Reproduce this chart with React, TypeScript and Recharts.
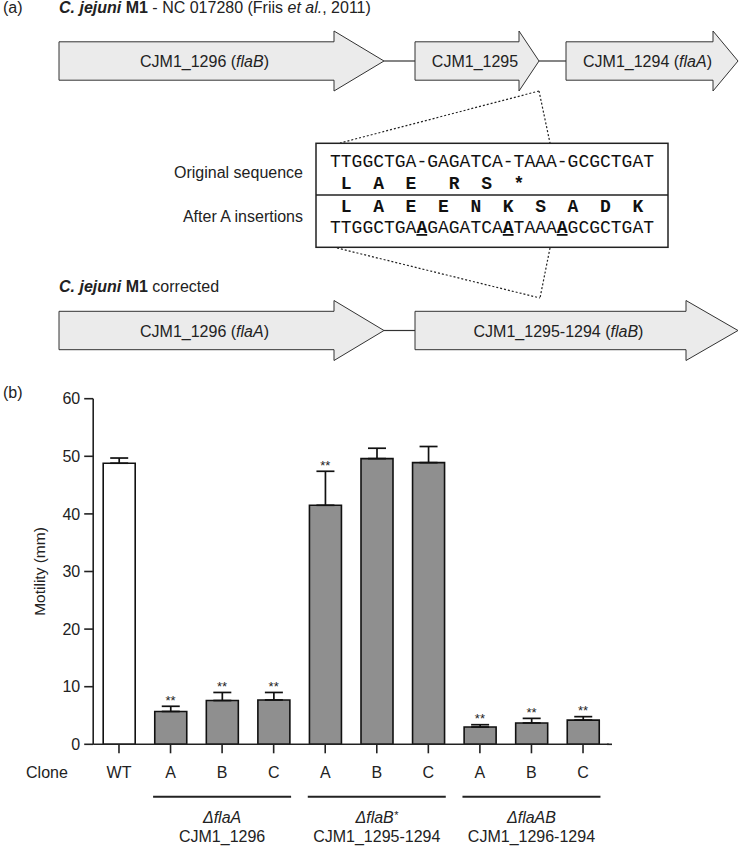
import { ComposedChart, Bar, Line, XAxis, YAxis, ErrorBar, Cell, LabelList } from "recharts";

const FONT = "'Liberation Sans', Arial, Helvetica, sans-serif";
const MONO = "'Liberation Mono', 'Courier New', monospace";

// motility assay
const clones = ["WT", "A", "B", "C", "A", "B", "C", "A", "B", "C"];
const motility = [48.8, 5.7, 7.6, 7.7, 41.5, 49.6, 48.9, 3.0, 3.7, 4.2];
const sd = [0.9, 0.9, 1.4, 1.3, 5.9, 1.8, 2.8, 0.4, 0.8, 0.6];
const stars = ["", "**", "**", "**", "**", "", "", "**", "**", "**"];
const yTicks = [0, 10, 20, 30, 40, 50, 60];

const groupNames = ["flaA", "flaB", "flaAB"];
const groupLoci = ["CJM1_1296", "CJM1_1295-1294", "CJM1_1296-1294"];
const groupMiddle = [2, 5, 8];

// sequence panel
const seqOriginal = "TTGGCTGA-GAGATCA-TAAA-GCGCTGAT";
const seqCorrected = "TTGGCTGAAGAGATCAATAAAAGCGCTGAT";
const insertions = [8, 16, 21];
const aaOriginal = ["L", "A", "E", "R", "S", "*"];
const aaOriginalPos = [1, 4, 7, 11, 14, 17];
const aaCorrected = ["L", "A", "E", "E", "N", "K", "S", "A", "D", "K"];
const aaCorrectedPos = [1, 4, 7, 10, 13, 16, 19, 22, 25, 28];

const data = clones.map((c, i) => ({
  id: c + i,
  clone: c,
  motility: motility[i],
  err: [0, sd[i]],
  top: stars[i] ? motility[i] + sd[i] : null,
  stars: stars[i],
}));

const CHAR_W = 10.8;
const SEQ_X = 330;

const Gene = ({ x0, head, tip, cy, children }: any) => {
  const b = 19.2;
  const h = 30;
  const d = `M${x0},${cy - b} L${head},${cy - b} L${head},${cy - h} L${tip},${cy} L${head},${cy + h} L${head},${cy + b} L${x0},${cy + b} Z`;
  return (
    <g>
      <path d={d} fill="#ebebeb" stroke="#333" strokeWidth={1} />
      <text x={(x0 + head) / 2 + 8} y={cy + 6} textAnchor="middle" fontSize={16} fill="#222">
        {children}
      </text>
    </g>
  );
};

const CloneTick = (props: any) => {
  const { x, y, payload } = props;
  const i = props.index ?? payload.index;
  const g = groupMiddle.indexOf(i);
  return (
    <g fontFamily={FONT} fill="#222">
      {i === 0 && (
        <text x={x - 72} y={y + 23} textAnchor="middle" fontSize={16}>
          Clone
        </text>
      )}
      {i === clones.length - 1 && (
        <line x1={x + 24} x2={x + 29} y1={y - 11} y2={y - 11} stroke="#222" strokeWidth={1.6} />
      )}
      <text x={x} y={y + 23} textAnchor="middle" fontSize={16}>
        {clones[i]}
      </text>
      {g >= 0 && (
        <g>
          <line x1={x - 69} x2={x + 69} y1={y + 41.4} y2={y + 41.4} stroke="#222" strokeWidth={2} />
          <text x={x} y={y + 67.5} textAnchor="middle" fontSize={16} fontStyle="italic">
            {"\u0394" + groupNames[g]}
            {g === 1 && <tspan dy={-4} fontSize={11}>*</tspan>}
          </text>
          <text x={x} y={y + 86.5} textAnchor="middle" fontSize={16}>
            {groupLoci[g]}
          </text>
        </g>
      )}
    </g>
  );
};

const StarLabel = (props: any) => {
  const { x, y, value } = props;
  if (!value || x == null || y == null) return null;
  return (
    <text x={x} y={y - 1.5} textAnchor="middle" fontSize={13} fontFamily={FONT} fill="#222">
      {value}
    </text>
  );
};

export default function App() {
  return (
    <div style={{ position: "absolute", left: 0, top: 0, width: 740, height: 846, background: "#fff", fontFamily: FONT }}>
      <svg width={740} height={846} style={{ position: "absolute", left: 0, top: 0 }} fontFamily={FONT}>
        <text x={3} y={13} fontSize={16} fill="#222">(a)</text>
        <text x={59} y={13} fontSize={16} fill="#222">
          <tspan fontWeight="bold" fontStyle="italic">C. jejuni</tspan>
          <tspan fontWeight="bold"> M1</tspan>
          <tspan> - NC 017280 (Friis </tspan>
          <tspan fontStyle="italic">et al.</tspan>
          <tspan>, 2011)</tspan>
        </text>

        <line x1={384} x2={415} y1={61} y2={61} stroke="#333" strokeWidth={1.2} />
        <line x1={539} x2={566} y1={61} y2={61} stroke="#333" strokeWidth={1.2} />
        <Gene x0={59} head={334} tip={384} cy={61}>
          CJM1_1296 (<tspan fontStyle="italic">flaB</tspan>)
        </Gene>
        <Gene x0={415} head={519} tip={539} cy={61}>
          CJM1_1295
        </Gene>
        <Gene x0={566} head={713} tip={738} cy={61}>
          CJM1_1294 (<tspan fontStyle="italic">flaA</tspan>)
        </Gene>

        <g stroke="#222" strokeWidth={1.2} strokeDasharray="2 2" fill="none">
          <line x1={539} y1={91} x2={340} y2={143} />
          <line x1={539} y1={91} x2={550} y2={143} />
          <line x1={337} y1={248} x2={540} y2={298} />
          <line x1={550} y1={248} x2={540} y2={298} />
        </g>

        <rect x={316} y={143.3} width={352} height={104} fill="#fff" stroke="#222" strokeWidth={1.5} />
        <line x1={316} x2={668} y1={195} y2={195} stroke="#222" strokeWidth={1.5} />
        <text x={303} y={178} textAnchor="end" fontSize={16} fill="#222">Original sequence</text>
        <text x={303} y={222} textAnchor="end" fontSize={16} fill="#222">After A insertions</text>

        <g fontFamily={MONO} fontSize={18} fill="#111" textAnchor="middle">
          {seqOriginal.split("").map((ch, i) => (
            <text key={"o" + i} x={SEQ_X + (i + 0.5) * CHAR_W} y={167}>{ch}</text>
          ))}
          {aaOriginal.map((aa, i) => (
            <text key={"ao" + i} x={SEQ_X + (aaOriginalPos[i] + 0.5) * CHAR_W} y={189} fontWeight="bold">{aa}</text>
          ))}
          {aaCorrected.map((aa, i) => (
            <text key={"ac" + i} x={SEQ_X + (aaCorrectedPos[i] + 0.5) * CHAR_W} y={212} fontWeight="bold">{aa}</text>
          ))}
          {seqCorrected.split("").map((ch, i) => (
            <text
              key={"c" + i}
              x={SEQ_X + (i + 0.5) * CHAR_W}
              y={233}
              fontWeight={insertions.includes(i) ? "bold" : "normal"}
              textDecoration={insertions.includes(i) ? "underline" : "none"}
            >
              {ch}
            </text>
          ))}
        </g>

        <text x={59} y={292} fontSize={16} fill="#222">
          <tspan fontWeight="bold" fontStyle="italic">C. jejuni</tspan>
          <tspan fontWeight="bold"> M1</tspan>
          <tspan> corrected</tspan>
        </text>
        <line x1={384} x2={415} y1={330.5} y2={330.5} stroke="#333" strokeWidth={1.2} />
        <Gene x0={59} head={334} tip={384} cy={330.5}>
          CJM1_1296 (<tspan fontStyle="italic">flaA</tspan>)
        </Gene>
        <Gene x0={415} head={686} tip={738} cy={330.5}>
          CJM1_1295-1294 (<tspan fontStyle="italic">flaB</tspan>)
        </Gene>

        <text x={3} y={398} fontSize={16} fill="#222">(b)</text>
        <text x={45} y={571.5} fontSize={15.5} fill="#222" textAnchor="middle" transform="rotate(-90 45 571.5)">
          Motility (mm)
        </text>
      </svg>

      <div style={{ position: "absolute", left: 0, top: 380 }}>
        <ComposedChart
          width={740}
          height={466}
          data={data}
          margin={{ top: 18.7, right: 131.2, left: 0, bottom: 0 }}
          style={{ overflow: "visible" }}
        >
          <XAxis
            dataKey="id"
            interval={0}
            tickSize={9}
            height={101.7}
            tick={<CloneTick />}
            axisLine={{ stroke: "#222", strokeWidth: 1.6 }}
            tickLine={{ stroke: "#222", strokeWidth: 1.6 }}
          />
          <YAxis
            domain={[0, 60]}
            ticks={yTicks}
            interval={0}
            width={93.2}
            tickSize={9}
            tickMargin={4}
            axisLine={{ stroke: "#222", strokeWidth: 1.6 }}
            tickLine={{ stroke: "#222", strokeWidth: 1.6 }}
            tick={{ fill: "#222", fontSize: 16, fontFamily: FONT }}
          />
          <Bar dataKey="motility" barSize={32} stroke="#111" strokeWidth={1.6} isAnimationActive={false}>
            {data.map((d, i) => (
              <Cell key={d.id} fill={i === 0 ? "#ffffff" : "#8f8f8f"} />
            ))}
            <ErrorBar dataKey="err" width={9} stroke="#111" strokeWidth={1.7} direction="y" />
          </Bar>
          <Line dataKey="top" stroke="none" dot={false} activeDot={false} isAnimationActive={false} legendType="none">
            <LabelList dataKey="stars" content={<StarLabel />} />
          </Line>
        </ComposedChart>
      </div>
    </div>
  );
}
